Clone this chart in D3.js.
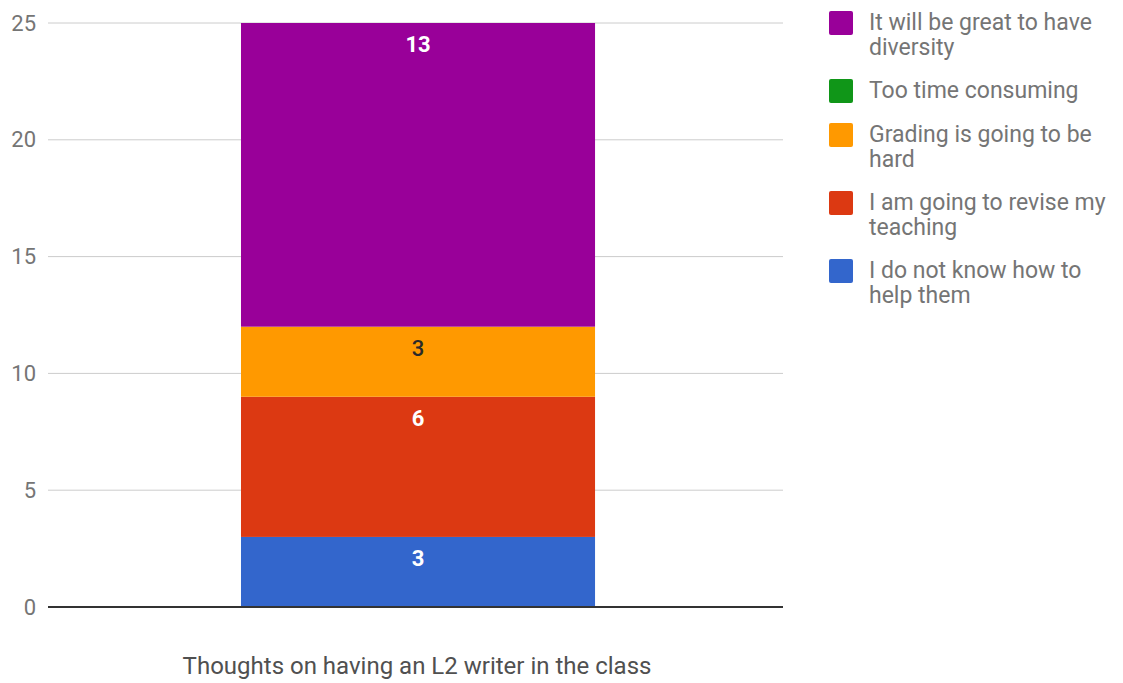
<!DOCTYPE html>
<html><head><meta charset="utf-8">
<script src="https://cdn.jsdelivr.net/npm/d3@7"></script>
<style>body{margin:0;background:#fff;font-family:Roboto,"Noto Sans",sans-serif}</style>
</head><body><svg id="c" width="1123" height="683"></svg>
<script>
const categories = ["Thoughts on having an L2 writer in the class"];
const seriesNames = ["I do not know how to help them","I am going to revise my teaching","Grading is going to be hard","Too time consuming","It will be great to have diversity"];
const seriesValues = [[3],[6],[3],[0],[13]];
const seriesColors = ["#3366cc","#dc3912","#ff9900","#109618","#990099"];
const labelColors = ["#ffffff","#ffffff","#2a2a2a","#ffffff","#ffffff"];
const yTicks = [0,5,10,15,20,25];
const legendLines = [["It will be great to have","diversity"],["Too time consuming"],["Grading is going to be","hard"],["I am going to revise my","teaching"],["I do not know how to","help them"]];

(function(){
const svg = d3.select("#c");
const mLeft = 48, mRight = 783, mTop = 23, mBottom = 607;
const y = d3.scaleLinear().domain([0,25]).range([mBottom, mTop]);
const x = d3.scaleBand().domain(categories).range([mLeft, mRight]).paddingInner(0.5).paddingOuter(0.269).align(0.5066);

svg.append("g").selectAll("line").data(yTicks.filter(d=>d>0)).join("line")
  .attr("x1", mLeft).attr("x2", mRight).attr("y1", d=>y(d)).attr("y2", d=>y(d))
  .attr("stroke", "#cccccc").attr("stroke-width", 1);

const yAxis = d3.axisLeft(y).tickValues(yTicks).tickSize(0).tickPadding(0);
const ga = svg.append("g").attr("transform", `translate(36,0)`).call(yAxis);
ga.select(".domain").remove();
ga.selectAll("text").attr("font-family","Roboto").attr("font-size",22).attr("fill","#757575");

const data = categories.map((c,i)=>{const o={cat:c}; seriesNames.forEach((s,j)=>o[s]=seriesValues[j][i]); return o;});
const stack = d3.stack().keys(seriesNames)(data);
stack.forEach((layer,j)=>{
  layer.forEach(d=>{
    if (d[1]-d[0] <= 0) return;
    const bx = x(d.data.cat), bw = x.bandwidth();
    svg.append("rect").attr("x", bx).attr("y", y(d[1])).attr("width", bw).attr("height", y(d[0])-y(d[1]))
      .attr("fill", seriesColors[j]);
    svg.append("text").attr("x", bx+bw/2).attr("y", y(d[1])+29).attr("text-anchor","middle")
      .attr("font-family","Roboto").attr("font-weight", j===2?"500":"bold").attr("font-size",22)
      .attr("fill", labelColors[j]).text(d[1]-d[0]);
  });
});

svg.append("line").attr("x1", mLeft).attr("x2", mRight).attr("y1", y(0)).attr("y2", y(0))
  .attr("stroke","#333333").attr("stroke-width",2);

const xAxis = d3.axisBottom(x).tickSize(0).tickPadding(0);
const gx = svg.append("g").attr("transform", `translate(-1,674)`).call(xAxis);
gx.select(".domain").remove();
gx.selectAll("text").attr("font-family","Roboto").attr("font-size",24).attr("fill","#505050").attr("dy","0").attr("y",0);

const legendY = [23, 91, 135, 203, 271];
const legendIdx = [4,3,2,1,0];
legendIdx.forEach((si,k)=>{
  const g = svg.append("g").attr("transform", `translate(829,${legendY[k]})`);
  g.append("rect").attr("x",0).attr("y",-12).attr("width",24).attr("height",24).attr("rx",2).attr("fill", seriesColors[si]);
  const t = g.append("text").attr("x",40).attr("y",7).attr("font-family","Roboto").attr("font-size",23).attr("fill","#757575");
  legendLines[k].forEach((ln,i)=>t.append("tspan").attr("x",40).attr("dy", i===0?0:25).text(ln));
});
})();
</script></body></html>
